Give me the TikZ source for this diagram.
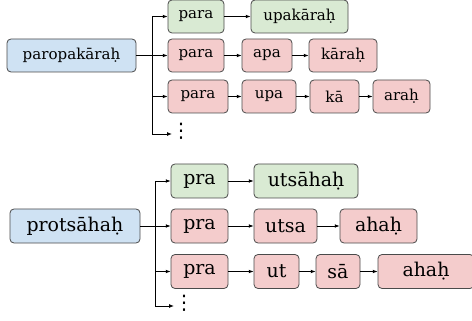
\documentclass[tikz,border=0pt]{standalone}
\usepackage{fontspec}
\setmainfont{DejaVu Serif}
\newfontfamily\dotsfont{DejaVu Sans}
\usetikzlibrary{arrows.meta}

\definecolor{rootblue}{HTML}{CFE2F3}
\definecolor{keepgreen}{HTML}{D9EAD3}
\definecolor{splitred}{HTML}{F4CCCC}
\definecolor{edge}{HTML}{4A4A4A}

\begin{document}
\begin{tikzpicture}[x=0.75pt,y=-0.75pt,
    box/.style={draw=edge, line width=0.6pt, rounded corners=3pt, inner sep=0pt},
    small/.style={box, minimum height=24.75pt, font=\fontsize{11.3}{13}\selectfont},
    large/.style={box, minimum height=25.5pt, font=\fontsize{14.2}{16}\selectfont},
    root/.style={fill=rootblue, minimum width=#1},
    keep/.style={fill=keepgreen, minimum width=#1},
    split/.style={fill=splitred, minimum width=#1},
    arr/.style={-{Latex[length=3.6pt,width=2.8pt]}, line width=0.6pt, black},
    more/.style={inner sep=0pt, font=\dotsfont\fontsize{15}{15}\selectfont}]
    \clip (0,0) rectangle (472,321);
    % paropakarah
    \node (r1) at (71.5,55.5) [small, root=96.75pt] {paropakāraḥ};
    \node (a1) at (196,16.5) [small, keep=42pt] {para};
    \node (a2) at (299.5,16.5) [small, keep=72.75pt] {upakāraḥ};
    \node (b1) at (196,55.5) [small, split=42pt] {para};
    \node (b2) at (267,55.5) [small, split=37.5pt] {apa};
    \node (b3) at (343,55.5) [small, split=51pt] {kāraḥ};
    \node (c1) at (198,96.5) [small, split=45pt] {para};
    \node (c2) at (269,96.5) [small, split=40.5pt] {upa};
    \node (c3) at (334.5,96.5) [small, split=36.75pt] {kā};
    \node (c4) at (401.5,96.5) [small, split=42.75pt] {araḥ};
    \node (m1) at (181,131) [more] {⋮};
    \coordinate (j1) at (152,55.5);
    \coordinate (e1) at (172,134);
    % protsahah
    \node (r2) at (75,226) [large, root=97.5pt] {protsāhaḥ};
    \node (d1) at (199.5,181) [large, keep=42.75pt] {pra};
    \node (d2) at (306,181) [large, keep=78pt] {utsāhaḥ};
    \node (f1) at (199.5,226) [large, split=42.75pt] {pra};
    \node (f2) at (285.5,226) [large, split=47.25pt] {utsa};
    \node (f3) at (378.5,226) [large, split=57.75pt] {ahaḥ};
    \node (g1) at (199.5,271.5) [large, split=42.75pt] {pra};
    \node (g2) at (276.5,271.5) [large, split=33.75pt] {ut};
    \node (g3) at (338,271.5) [large, split=33pt] {sā};
    \node (g4) at (426,271.5) [large, split=72pt] {ahaḥ};
    \node (m2) at (184,303) [more] {⋮};
    \coordinate (j2) at (155,226);
    \coordinate (e2) at (174,306);

    \draw[arr] (r1.east) -- (b1.west);
    \draw[arr] (j1) |- (a1.west);
    \draw[arr] (j1) |- (c1.west);
    \draw[arr] (j1) |- (e1);
    \draw[arr] (r2.east) -- (f1.west);
    \draw[arr] (j2) |- (d1.west);
    \draw[arr] (j2) |- (g1.west);
    \draw[arr] (j2) |- (e2);
    \foreach \u/\v in {a1/a2, b1/b2, b2/b3, c1/c2, c2/c3, c3/c4,
                       d1/d2, f1/f2, f2/f3, g1/g2, g2/g3, g3/g4}
        \draw[arr] (\u) -- (\v);
\end{tikzpicture}
\end{document}
